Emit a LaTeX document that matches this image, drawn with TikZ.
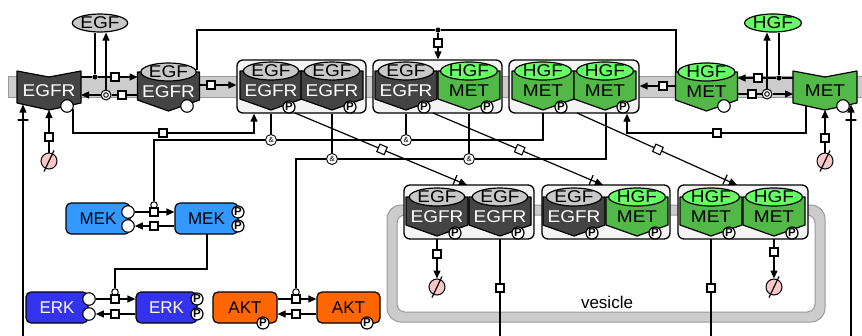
\documentclass[tikz,border=0pt]{standalone}
\usepackage{fontspec}
\setmainfont{Liberation Sans}
\usepackage{graphicx}
\usetikzlibrary{arrows.meta,shapes.geometric,calc}
\definecolor{egfrc}{HTML}{444444}
\definecolor{egfc}{HTML}{C8C8C8}
\definecolor{metc}{HTML}{52B848}
\definecolor{hgfc}{HTML}{66FF66}
\definecolor{cboxc}{HTML}{F4F4F4}
\definecolor{memc}{HTML}{CCCCCC}
\definecolor{membc}{HTML}{999999}
\definecolor{mekc}{HTML}{3399FF}
\definecolor{erkc}{HTML}{3333EE}
\definecolor{aktc}{HTML}{FF6600}
\definecolor{pinkc}{HTML}{F8C8C8}
\newcommand\stx[1]{\scalebox{1.12}[1]{#1}}
\tikzset{
  pics/bunit/.style n args={5}{code={
    \filldraw[fill=#1, draw=black, line width=1.2pt, line join=round] (-31,0) -- (31,0) -- (31,28) -- (0,39) -- (-31,28) -- cycle;
    \node[lig, fill=#2] (-lig) at (0,0) {\stx{#5}};
    \node[text=#3, inner sep=0pt] (-lab) at (0,19.5) {\stx{#4}};
  }}
}
\begin{document}
\begin{tikzpicture}[x=1pt,y=-1pt,
  every node/.style={font=\fontsize{17}{20}\selectfont},
  conn/.style={line width=1.2pt, draw=black},
  arr/.style={conn, -{Triangle[length=8pt,width=7pt]}},
  proc/.style={draw=black, fill=white, rectangle, minimum size=8pt, inner sep=0pt, line width=1.1pt},
  adot/.style={circle, fill=black, minimum size=5pt, inner sep=0pt},
  dissoc/.style={circle, draw=black, fill=white, minimum size=10pt, inner sep=0pt, line width=1pt,
     path picture={\draw[line width=0.9pt] (path picture bounding box.center) circle (2.3pt);}},
  andg/.style={circle, draw=black, fill=white, minimum size=11pt, inner sep=0pt, line width=0.9pt, font=\fontsize{7.5}{7.5}\selectfont},
  catal/.style={circle, draw=black, fill=white, minimum size=6.5pt, inner sep=0pt, line width=1pt},
  pst/.style={circle, draw=black, fill=white, minimum size=12pt, inner sep=0pt, line width=1.2pt, font=\fontsize{11.5}{11.5}\selectfont\bfseries},
  est/.style={circle, draw=black, fill=white, minimum size=12.5pt, inner sep=0pt, line width=1.1pt},
  cplx/.style={rectangle, draw=black, fill=cboxc, rounded corners=6pt, line width=1.3pt, inner sep=0pt, minimum height=53pt},
  emptys/.style={circle, draw=black, fill=pinkc, minimum size=16pt, inner sep=0pt, line width=1pt},
  barmark/.style={draw=black, line width=1.2pt, line join=round, minimum width=0pt, minimum height=10pt, inner sep=0pt, sloped},
  lig/.style={ellipse, draw=black, line width=1.2pt, minimum width=55pt, minimum height=18pt, inner sep=0pt},
  kin/.style={rectangle, rounded corners=5pt, draw=black, line width=1.2pt, minimum height=31pt, inner sep=0pt}
]
\useasboundingbox (0,0) rectangle (862,335);

% membrane
\fill[memc] (8,76) rectangle (862,97);
\draw[membc, line width=1pt] (862,76) -- (8,76) -- (8,97) -- (862,97);

% vesicle
\draw[membc, line width=1pt, fill=memc, rounded corners=14pt] (387,205) rectangle (825,322);
\draw[membc, line width=1pt, fill=white, rounded corners=8pt] (397,215) rectangle (815,312);
\node (vlab) at (607,302) {vesicle};

% top long association line (under shapes)
\coordinate (tl1) at (197,70);
\coordinate (tl2) at (197,30);
\coordinate (tl3) at (676,30);
\coordinate (tl4) at (676,72);
\node[adot] (as3) at (438,30) {};
\draw[conn] (tl1) -- (tl2) -- (as3) -- (tl3) -- (tl4);

% free ligands
\node[lig, fill=egfc] (egf1) at (100,23) {\stx{EGF}};
\node[lig, fill=hgfc] (hgf1) at (773,23) {\stx{HGF}};

% free EGFR receptor
\filldraw[fill=egfrc, draw=black, line width=1.2pt, line join=round] (17,71) -- (49,77) -- (81,71) -- (81,103) -- (49,110) -- (17,103) -- cycle;
\node[text=white, inner sep=0pt] (egfr1) at (49,91) {\stx{EGFR}};
\node[est] (egfr1s) at (67,106) {};

% free MET receptor
\filldraw[fill=metc, draw=black, line width=1.2pt, line join=round] (793,71) -- (825,77) -- (857,71) -- (857,103) -- (825,110) -- (793,103) -- cycle;
\node[inner sep=0pt] (met1) at (825,91) {\stx{MET}};
\node[est] (met1s) at (843,106) {};

% EGF:EGFR and HGF:MET
\pic (ee1) at (168.5,72) {bunit={egfrc}{egfc}{white}{EGFR}{EGF}};
\node[est] (ee1s) at (187,106) {};
\pic (hm1) at (706.5,72) {bunit={metc}{hgfc}{black}{MET}{HGF}};
\node[est] (hm1s) at (724,106) {};

% membrane complexes
\node[cplx, minimum width=129pt] (c1) at (301.5,86.5) {};
\pic (c1a) at (271,71) {bunit={egfrc}{egfc}{white}{EGFR}{EGF}};
\pic (c1b) at (332,71) {bunit={egfrc}{egfc}{white}{EGFR}{EGF}};
\node[pst] (c1aP) at (289,107) {P};
\node[pst] (c1bP) at (350,107) {P};

\node[cplx, minimum width=129pt] (c2) at (437.5,86.5) {};
\pic (c2a) at (406,71) {bunit={egfrc}{egfc}{white}{EGFR}{EGF}};
\pic (c2b) at (469,71) {bunit={metc}{hgfc}{black}{MET}{HGF}};
\node[pst] (c2aP) at (424,107) {P};
\node[pst] (c2bP) at (487,107) {P};

\node[cplx, minimum width=130pt] (c3) at (574,86.5) {};
\pic (c3a) at (543,71) {bunit={metc}{hgfc}{black}{MET}{HGF}};
\pic (c3b) at (605,71) {bunit={metc}{hgfc}{black}{MET}{HGF}};
\node[pst] (c3aP) at (561,107) {P};
\node[pst] (c3bP) at (623,107) {P};

% vesicle complexes
\node[cplx, minimum width=130pt, minimum height=54pt] (v1) at (469,212) {};
\pic (v1a) at (437,197) {bunit={egfrc}{egfc}{white}{EGFR}{EGF}};
\pic (v1b) at (500,197) {bunit={egfrc}{egfc}{white}{EGFR}{EGF}};
\node[pst] (v1aP) at (455,233) {P};
\node[pst] (v1bP) at (518,233) {P};

\node[cplx, minimum width=128pt, minimum height=54pt] (v2) at (606,212) {};
\pic (v2a) at (574,197) {bunit={egfrc}{egfc}{white}{EGFR}{EGF}};
\pic (v2b) at (637,197) {bunit={metc}{hgfc}{black}{MET}{HGF}};
\node[pst] (v2aP) at (592,233) {P};
\node[pst] (v2bP) at (655,233) {P};

\node[cplx, minimum width=130pt, minimum height=54pt] (v3) at (743,212) {};
\pic (v3a) at (711,197) {bunit={metc}{hgfc}{black}{MET}{HGF}};
\pic (v3b) at (774,197) {bunit={metc}{hgfc}{black}{MET}{HGF}};
\node[pst] (v3aP) at (729,233) {P};
\node[pst] (v3bP) at (792,233) {P};

% ---- left membrane reactions
\coordinate (egfr1e1) at (81,77);
\coordinate (ee1w1) at (137.5,77);
\node[adot] (as1) at (95,77) {};
\node[proc] (pr1) at (115,77) {};
\draw[conn] (egfr1e1) -- (as1);
\draw[conn] (as1 |- egf1.south) -- (as1);
\draw[conn] (as1) -- (pr1);
\draw[arr] (pr1) -- (ee1w1);
\coordinate (ee1w2) at (137.5,95);
\coordinate (egfr1e2) at (81,95);
\node[proc] (pr2) at (122,95) {};
\node[dissoc] (ds1) at (106,95) {};
\draw[conn] (ee1w2) -- (pr2) -- (ds1);
\draw[arr] (ds1) -- (egfr1e2);
\draw[arr] (ds1) -- (ds1 |- egf1.south);

\coordinate (ee1e) at (199.5,85);
\node[proc] (pr3) at (211,85) {};
\draw[conn] (ee1e) -- (pr3);
\draw[arr] (pr3) -- (c1.west |- pr3);

% ---- right membrane reactions
\coordinate (met1w1) at (793,78);
\coordinate (hm1e1) at (737.5,78);
\node[adot] (as2) at (779,78) {};
\node[proc] (pr4) at (758,78) {};
\draw[conn] (met1w1) -- (as2);
\draw[conn] (as2 |- hgf1.south) -- (as2);
\draw[conn] (as2) -- (pr4);
\draw[arr] (pr4) -- (hm1e1);
\coordinate (hm1e2) at (737.5,94);
\coordinate (met1w2) at (793,94);
\node[proc] (pr5) at (752,94) {};
\node[dissoc] (ds2) at (767,94) {};
\draw[conn] (hm1e2) -- (pr5) -- (ds2);
\draw[arr] (ds2) -- (met1w2);
\draw[arr] (ds2) -- (ds2 |- hgf1.south);

\coordinate (hm1w) at (675.5,86);
\node[proc] (pr6) at (663,86) {};
\draw[conn] (hm1w) -- (pr6);
\draw[arr] (pr6) -- (c3.east |- pr6);

% top association into complex 2
\node[proc] (pr7) at (438,43) {};
\draw[conn] (as3) -- (pr7);
\draw[arr] (pr7) -- (pr7 |- c2.north);

% receptor -> complex from below
\coordinate (egfr1b) at (73,108.5);
\coordinate (k1) at (73,133);
\coordinate (k2) at (254,133);
\node[proc] (pr8) at (163,133) {};
\draw[conn] (egfr1b) -- (k1) -- (pr8);
\draw[arr] (pr8) -- (k2) -- (k2 |- c1.south);
\coordinate (met1b) at (806,106);
\coordinate (k3) at (806,133);
\coordinate (k4) at (627,133);
\node[proc] (pr9) at (717,133) {};
\draw[conn] (met1b) -- (k3) -- (pr9);
\draw[arr] (pr9) -- (k4) -- (k4 |- c3.south);

% sources
\node[emptys] (es1) at (49,161) {};
\draw[conn] ($(es1)+(-5,10.5)$) -- ($(es1)+(5,-10.5)$);
\node[proc] (pr10) at (49,137) {};
\coordinate (egfr1bc) at (49,110);
\draw[conn] (es1) -- (pr10);
\draw[arr] (pr10) -- (egfr1bc);
\node[emptys] (es2) at (825,161) {};
\draw[conn] ($(es2)+(-5,10.5)$) -- ($(es2)+(5,-10.5)$);
\node[proc] (pr11) at (825,138) {};
\coordinate (met1bc) at (825,110);
\draw[conn] (es2) -- (pr11);
\draw[arr] (pr11) -- (met1bc);

% long recycling verticals
\coordinate (lb1) at (23,336);
\coordinate (egfr1bl) at (23,104.5);
\draw[arr] (lb1) -- node[barmark, pos=0.933] (bar1) {} (egfr1bl);
\coordinate (lb2) at (851,336);
\coordinate (met1br) at (851,104.5);
\draw[arr] (lb2) -- node[barmark, pos=0.933] (bar2) {} (met1br);

% internalisation diagonals
\coordinate (d1s) at (295,113);
\coordinate (d1e) at (467,185);
\draw[arr] (d1s) -- node[proc, sloped, pos=0.506] (pr12) {} node[barmark, pos=0.93] (bar3) {} (d1e);
\coordinate (d2s) at (433,113);
\coordinate (d2e) at (603,185);
\draw[arr] (d2s) -- node[proc, sloped, pos=0.51] (pr13) {} node[barmark, pos=0.93] (bar4) {} (d2e);
\coordinate (d3s) at (577,113);
\coordinate (d3e) at (737,185);
\draw[arr] (d3s) -- node[proc, sloped, pos=0.506] (pr14) {} node[barmark, pos=0.925] (bar5) {} (d3e);

% vesicle outputs
\coordinate (v1bb) at (500,239);
\coordinate (bot1) at (500,336);
\node[proc] (pr15) at (500,288) {};
\draw[conn] (v1bb) -- (pr15) -- (bot1);
\coordinate (v3ab) at (711,239);
\coordinate (bot2) at (711,336);
\node[proc] (pr16) at (711,288) {};
\draw[conn] (v3ab) -- (pr16) -- (bot2);

% vesicle degradation
\coordinate (v1ab) at (437,239);
\node[proc] (pr17) at (437,254) {};
\node[emptys] (es3) at (437,287) {};
\draw[conn] ($(es3)+(-5,10.5)$) -- ($(es3)+(5,-10.5)$);
\draw[conn] (v1ab) -- (pr17);
\draw[arr] (pr17) -- (es3);
\coordinate (v3bb) at (774,239);
\node[proc] (pr18) at (774,252) {};
\node[emptys] (es4) at (774,287) {};
\draw[conn] ($(es4)+(-5,10.5)$) -- ($(es4)+(5,-10.5)$);
\draw[conn] (v3bb) -- (pr18);
\draw[arr] (pr18) -- (es4);

% kinases
\node[kin, fill=mekc, minimum width=64pt] (mek1) at (98,218.5) {MEK};
\node[est] (mek1s1) at (128,212) {};
\node[est] (mek1s2) at (128,226) {};
\node[kin, fill=mekc, minimum width=63pt] (mek2) at (206.5,218.5) {MEK};
\node[pst] (mek2P1) at (238,212) {P};
\node[pst] (mek2P2) at (238,226) {P};

\node[kin, fill=erkc, text=white, minimum width=62pt] (erk1) at (57,307.5) {ERK};
\node[est] (erk1s1) at (89,299) {};
\node[est] (erk1s2) at (89,314) {};
\node[kin, fill=erkc, text=white, minimum width=61pt] (erk2) at (166.5,307.5) {ERK};
\node[pst] (erk2P1) at (197,299) {P};
\node[pst] (erk2P2) at (197,314) {P};

\node[kin, fill=aktc, minimum width=64pt] (akt1) at (245,307.5) {AKT};
\node[pst] (akt1P) at (263,323) {P};
\node[kin, fill=aktc, minimum width=63pt] (akt2) at (348.5,307.5) {AKT};
\node[pst] (akt2P) at (367,323) {P};

% logic
\node[andg] (and1) at (271,140) {\&};
\node[andg] (and2) at (406,140) {\&};
\node[andg] (and3) at (332,159) {\&};
\node[andg] (and4) at (469,159) {\&};
\node[catal] (cat1) at (154,205) {};
\node[catal] (cat2) at (296,292) {};
\node[catal] (cat3) at (115,292) {};

\draw[conn] (and1 |- c1.south) -- (and1);
\draw[conn] (and2 |- c2.south) -- (and2);
\coordinate (c3u) at (543,113);
\coordinate (j1) at (543,140);
\coordinate (j2) at (154,140);
\draw[conn] (c3u) -- (j1) -- (and2) -- (and1) -- (j2) -- (cat1);

\draw[conn] (and3 |- c1.south) -- (and3);
\draw[conn] (and4 |- c2.south) -- (and4);
\coordinate (c3u2) at (606,113);
\coordinate (j3) at (606,159);
\coordinate (j4) at (296,159);
\draw[conn] (c3u2) -- (j3) -- (and4) -- (and3) -- (j4) -- (cat2);

% MEK process
\node[proc] (pr20) at (154,212) {};
\node[proc] (pr21) at (154,226) {};
\draw[conn] (mek1s1) -- (pr20);
\draw[arr] (pr20) -- (mek2.west |- pr20);
\draw[conn] (mek2.west |- pr21) -- (pr21);
\draw[arr] (pr21) -- (mek1s2);

% MEK-PP catalyses ERK
\coordinate (m2b) at (207,234);
\coordinate (k5) at (207,269);
\coordinate (k6) at (115,269);
\draw[conn] (m2b) -- (k5) -- (k6) -- (cat3);

% ERK process
\node[proc] (pr22) at (115,299) {};
\node[proc] (pr23) at (115,314) {};
\draw[conn] (erk1s1) -- (pr22);
\draw[arr] (pr22) -- (erk2.west |- pr22);
\draw[conn] (erk2.west |- pr23) -- (pr23);
\draw[arr] (pr23) -- (erk1s2);

% AKT process
\node[proc] (pr24) at (296,299) {};
\node[proc] (pr25) at (296,314) {};
\draw[conn] (akt1.east |- pr24) -- (pr24);
\draw[arr] (pr24) -- (akt2.west |- pr24);
\draw[conn] (akt2.west |- pr25) -- (pr25);
\draw[arr] (pr25) -- (akt1.east |- pr25);
\end{tikzpicture}
\end{document}
